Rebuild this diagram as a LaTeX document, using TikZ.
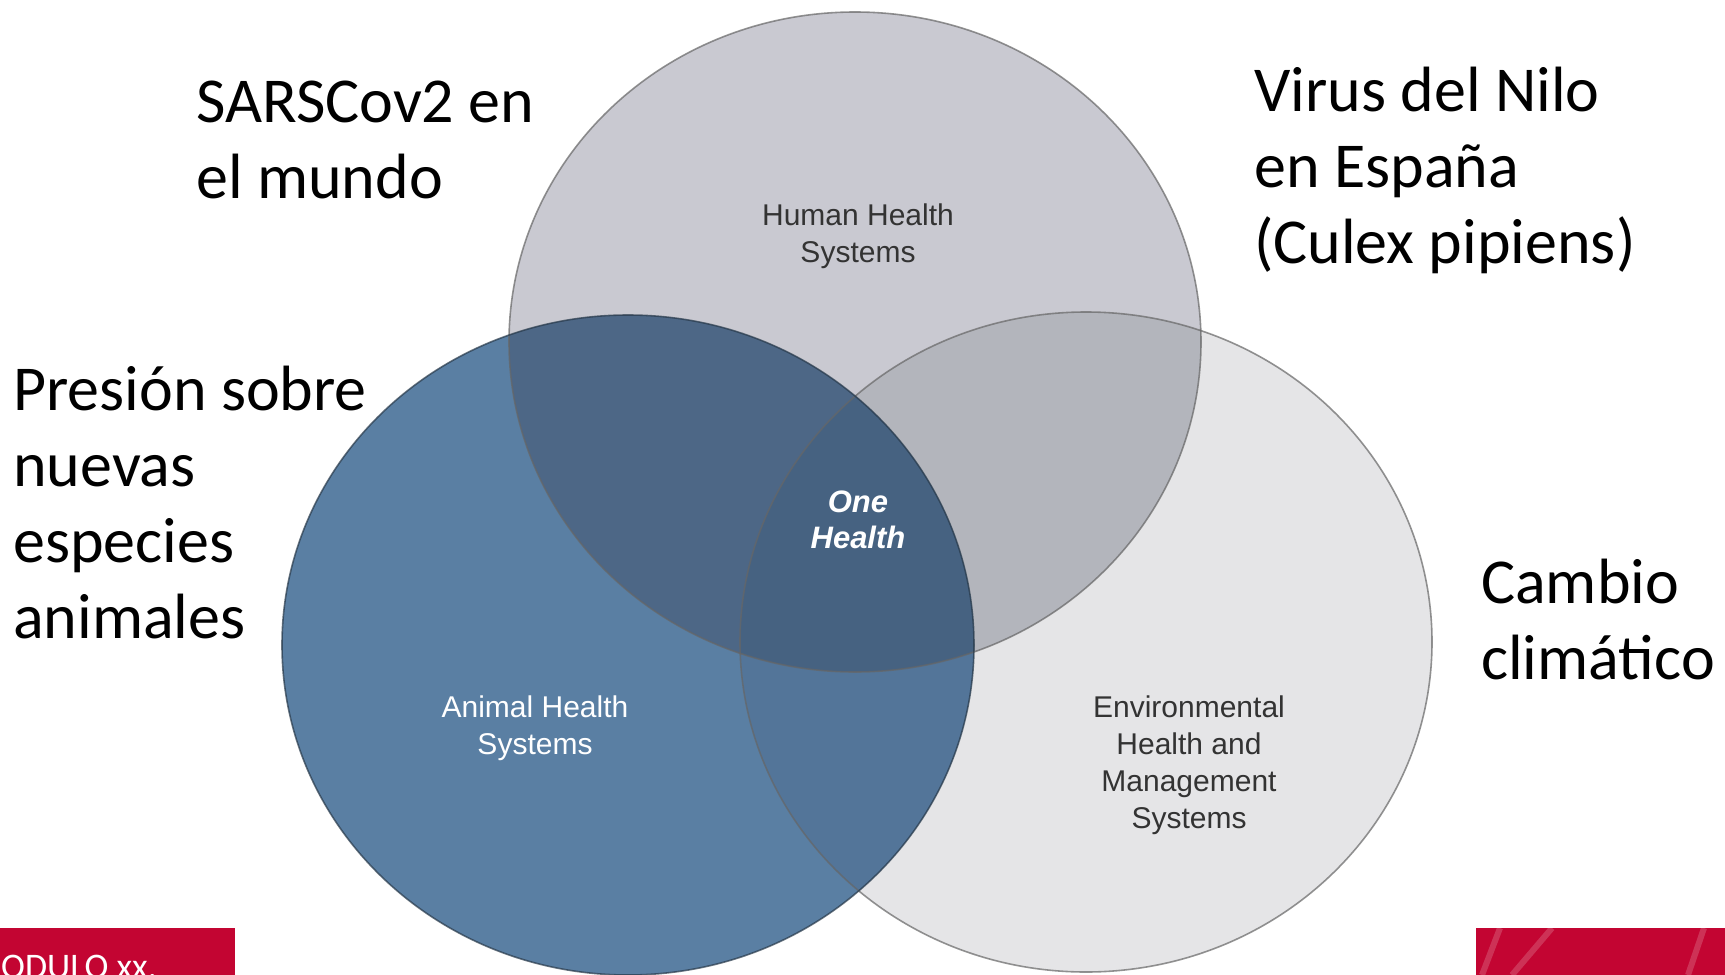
\documentclass[tikz,border=0pt]{standalone}
\usepackage{fontspec}
\setmainfont{Carlito}
\newfontfamily\arialf{Liberation Sans}
\newcommand\leftlines[1]{\vtop{\halign{##\hfil\cr#1\crcr}}}
\newcommand\ctrlines[1]{\vtop{\halign{\hfil##\hfil\cr#1\crcr}}}
\definecolor{cT}{RGB}{201,201,209}
\definecolor{cL}{RGB}{90,127,163}
\definecolor{cR}{RGB}{229,229,231}
\definecolor{cTL}{RGB}{77,103,134}
\definecolor{cTR}{RGB}{179,181,188}
\definecolor{cLR}{RGB}{83,117,153}
\definecolor{cC}{RGB}{70,98,129}
\definecolor{barred}{RGB}{195,5,50}
\begin{document}
\begin{tikzpicture}[x=1pt,y=-1pt,
  rad/.style={x radius=346pt,y radius=330pt},
  ring/.style={draw=black!60,line width=1.6pt,draw opacity=0.7},
  big/.style={font=\fontsize{64}{76}\selectfont,anchor=base west,inner sep=0pt},
  lab/.style={font=\arialf\fontsize{30}{37}\selectfont,anchor=base,inner sep=0pt},
  stripe/.style={draw=white,draw opacity=0.18,line width=6pt}]
\useasboundingbox (0,0) rectangle (1725,975);
\fill[white] (0,0) rectangle (1725,975);
\coordinate (oT) at (855,342);
\coordinate (oL) at (628,645);
\coordinate (oR) at (1086,642);
% base fills
\fill[cR] (oR) ellipse [rad];
\fill[cT] (oT) ellipse [rad];
\fill[cL] (oL) ellipse [rad];
% pairwise overlaps
\begin{scope}
  \clip (oT) ellipse [rad];
  \fill[cTR] (oR) ellipse [rad];
  \fill[cTL] (oL) ellipse [rad];
\end{scope}
\begin{scope}
  \clip (oL) ellipse [rad];
  \fill[cLR] (oR) ellipse [rad];
  \clip (oR) ellipse [rad];
  \fill[cC] (oT) ellipse [rad];
\end{scope}
% outlines
\draw[ring] (oT) ellipse [rad];
\draw[ring] (oR) ellipse [rad];
\draw[ring,draw=black!55!cL] (oL) ellipse [rad];
% circle labels
\node[lab,text=black!80] (hum) at (858,225) {\ctrlines{Human Health\cr Systems}};
\node[lab,text=white] (ani) at (535,717) {\ctrlines{Animal Health\cr Systems}};
\node[lab,text=black!80] (env) at (1189,717) {\ctrlines{Environmental\cr Health and\cr Management\cr Systems}};
\node[lab,text=white,font=\arialf\bfseries\itshape\fontsize{31}{36}\selectfont] (one) at (858,512) {\ctrlines{One\cr Health}};
% big texts
\node[big] (sars) at (196,122) {\leftlines{SARSCov2 en\cr el mundo}};
\node[big] (nilo) at (1254,111) {\leftlines{Virus del Nilo\cr en España\cr (Culex pipiens)}};
\node[big] (pres) at (13,410) {\leftlines{Presión sobre\cr nuevas\cr especies\cr animales}};
\node[big] (camb) at (1481,603) {\leftlines{Cambio\cr climático}};
% footer bars
\fill[barred] (0,928) rectangle (235,975);
\begin{scope}
  \clip (0,928) rectangle (235,975);
  \node[font=\fontsize{36}{40}\selectfont,text=white,anchor=base west,inner sep=0pt] (mod) at (1,978) {ODULO xx.};
\end{scope}
\fill[barred] (1476,928) rectangle (1725,975);
\begin{scope}
  \clip (1476,928) rectangle (1725,975);
  \draw[stripe] (1500,928) -- (1482,975);
  \draw[stripe] (1552,928) -- (1512,975);
  \draw[stripe] (1704,928) -- (1688,975);
\end{scope}
\end{tikzpicture}
\end{document}
